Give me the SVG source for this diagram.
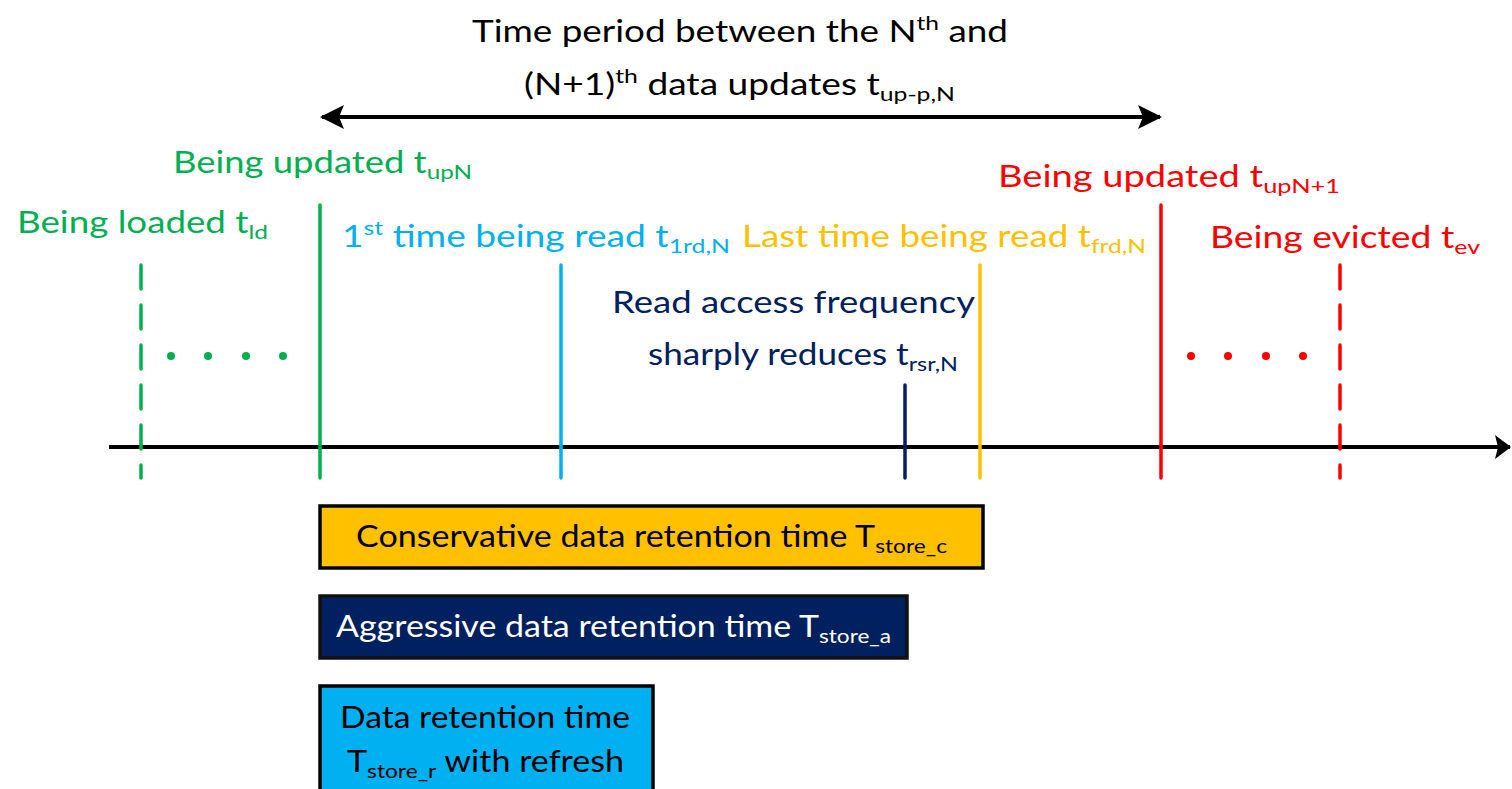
<svg xmlns="http://www.w3.org/2000/svg" width="1512" height="789" viewBox="0 0 1512 789">
<style>
text{font-family:Lato,"Open Sans","Liberation Sans",sans-serif;font-size:30px}
.g{fill:#00B050}.b{fill:#00B0F0}.o{fill:#FFC000}.r{fill:#FF0000}.n{fill:#002060}.k{fill:#000}.w{fill:#fff}
.s{font-size:20px}
.ln{stroke-width:3.5;fill:none;stroke-linecap:round}
.dash{stroke-dasharray:24 16}
</style>
<defs>
<marker id="ah" viewBox="0 0 24 24" refX="22" refY="12" markerWidth="24" markerHeight="24" markerUnits="userSpaceOnUse" orient="auto-start-reverse">
<path d="M0,0 L24,12 L0,24 L5,12 Z" fill="#000"/>
</marker>
<marker id="ax" viewBox="0 0 16 24" refX="15" refY="12" markerWidth="16" markerHeight="24" markerUnits="userSpaceOnUse" orient="auto">
<path d="M0,0 L16,12 L0,24 L3,12 Z" fill="#000"/>
</marker>
</defs>
<rect width="1512" height="789" fill="#fff"/>

<g id="connectors">
<line x1="109" y1="447" x2="1510" y2="447" stroke="#000" stroke-width="4" marker-end="url(#ax)"/>
<line x1="322" y1="117" x2="1160" y2="117" stroke="#000" stroke-width="4" marker-start="url(#ah)" marker-end="url(#ah)"/>
</g>

<g id="title">
<text class="k" x="472" y="42" textLength="536" lengthAdjust="spacingAndGlyphs">Time period between the N<tspan class="s" dy="-12">th</tspan><tspan dy="12"> and</tspan></text>
<text class="k" x="524" y="95" textLength="431" lengthAdjust="spacingAndGlyphs">(N+1)<tspan class="s" dy="-12">th</tspan><tspan dy="12"> data updates t</tspan><tspan class="s" dy="6">up-p,N</tspan></text>
</g>

<g id="loaded">
<line class="ln dash" x1="141" y1="265" x2="141" y2="478" stroke="#00B050"/>
<g fill="#00B050"><circle cx="171" cy="356" r="4"/><circle cx="208" cy="356" r="4"/><circle cx="246" cy="356" r="4"/><circle cx="283" cy="356" r="4"/></g>
<text class="g" x="17" y="233" textLength="251" lengthAdjust="spacingAndGlyphs">Being loaded t<tspan class="s" dy="6">ld</tspan></text>
</g>

<g id="updatedN">
<line class="ln" x1="320" y1="205" x2="320" y2="478" stroke="#00B050"/>
<text class="g" x="173" y="173" textLength="299" lengthAdjust="spacingAndGlyphs">Being updated t<tspan class="s" dy="6">upN</tspan></text>
</g>

<g id="firstRead">
<line class="ln" x1="561" y1="265" x2="561" y2="478" stroke="#00B0F0"/>
<text class="b" x="342" y="247" textLength="388" lengthAdjust="spacingAndGlyphs">1<tspan class="s" dy="-12">st</tspan><tspan dy="12"> time being read t</tspan><tspan class="s" dy="6">1rd,N</tspan></text>
</g>

<g id="sharpReduce">
<line class="ln" x1="905" y1="385" x2="905" y2="478" stroke="#002060"/>
<text class="n" x="612" y="313" textLength="363" lengthAdjust="spacingAndGlyphs">Read access frequency</text>
<text class="n" x="648" y="365" textLength="310" lengthAdjust="spacingAndGlyphs">sharply reduces t<tspan class="s" dy="6">rsr,N</tspan></text>
</g>

<g id="lastRead">
<line class="ln" x1="980" y1="265" x2="980" y2="478" stroke="#FFC000"/>
<text class="o" x="742" y="247" textLength="404" lengthAdjust="spacingAndGlyphs">Last time being read t<tspan class="s" dy="6">frd,N</tspan></text>
</g>

<g id="updatedN1">
<line class="ln" x1="1161" y1="205" x2="1161" y2="478" stroke="#FF0000"/>
<text class="r" x="998" y="187" textLength="342" lengthAdjust="spacingAndGlyphs">Being updated t<tspan class="s" dy="6">upN+1</tspan></text>
</g>

<g id="evicted">
<line class="ln dash" x1="1340" y1="265" x2="1340" y2="478" stroke="#FF0000"/>
<g fill="#FF0000"><circle cx="1191" cy="356" r="4"/><circle cx="1228" cy="356" r="4"/><circle cx="1266" cy="356" r="4"/><circle cx="1303" cy="356" r="4"/></g>
<text class="r" x="1210" y="248" textLength="270" lengthAdjust="spacingAndGlyphs">Being evicted t<tspan class="s" dy="6">ev</tspan></text>
</g>

<g id="conservative">
<rect x="320" y="506" width="663" height="62" fill="#FFC000" stroke="#000" stroke-width="3.5"/>
<text class="k" x="356" y="547" textLength="591" lengthAdjust="spacingAndGlyphs">Conservative data retention time T<tspan class="s" dy="6">store_c</tspan></text>
</g>

<g id="aggressive">
<rect x="320" y="596" width="587" height="62" fill="#002060" stroke="#111" stroke-width="3.5"/>
<text class="w" x="336" y="637" textLength="555" lengthAdjust="spacingAndGlyphs">Aggressive data retention time T<tspan class="s" dy="6">store_a</tspan></text>
</g>

<g id="refresh">
<rect x="320" y="686" width="333" height="120" fill="#00B0F0" stroke="#000" stroke-width="3.5"/>
<text class="k" x="340" y="728" textLength="290" lengthAdjust="spacingAndGlyphs">Data retention time</text>
<text class="k" x="347" y="772" textLength="277" lengthAdjust="spacingAndGlyphs">T<tspan class="s" dy="6">store_r</tspan><tspan dy="-6"> with refresh</tspan></text>
</g>
</svg>
